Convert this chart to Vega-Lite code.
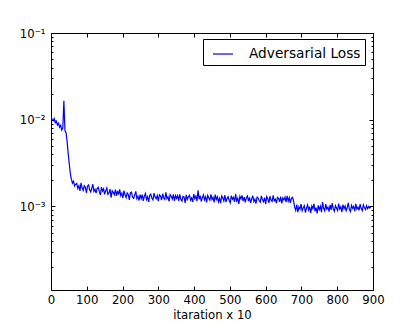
{
"$schema": "https://vega.github.io/schema/vega-lite/v6.json",
"width": 322, "height": 257,
"autosize": {"type": "none"},
"padding": {"left": 51, "top": 33, "right": 42, "bottom": 42},
"background": "white",
"config": {
  "view": {"stroke": "black", "strokeWidth": 1},
  "axis": {"grid": false, "domain": false, "labelFlush": false, "tickColor": "black", "tickWidth": 1, "labelColor": "black", "labelFont": "DejaVu Sans", "labelFontSize": 11.7, "titleFont": "DejaVu Sans", "titleFontSize": 11.7, "titleFontWeight": "normal", "titleColor": "black"}
},
"data": {"values": [
{"x":0,"y":1.08e-2},{"x":3,"y":1.01e-2},{"x":6,"y":9.7e-3},{"x":9,"y":1.03e-2},{"x":12,"y":9.2e-3},{"x":15,"y":9.6e-3},{"x":18,"y":8.7e-3},{"x":21,"y":9.1e-3},{"x":24,"y":8.2e-3},{"x":27,"y":8.6e-3},{"x":30,"y":7.6e-3},{"x":33,"y":8.0e-3},{"x":36,"y":1.65e-2},{"x":39,"y":7.5e-3},{"x":42,"y":7.1e-3},{"x":45,"y":5.6e-3},{"x":48,"y":4.1e-3},{"x":51,"y":3.1e-3},{"x":54,"y":2.4e-3},{"x":57,"y":2.05e-3},{"x":60,"y":1.85e-3},{"x":63,"y":1.95e-3},{"x":66,"y":1.72e-3},{"x":69,"y":1.80e-3},
{"x":72,"y":1.84e-3},{"x":75,"y":1.61e-3},{"x":78,"y":1.73e-3},{"x":81,"y":1.51e-3},{"x":84,"y":1.87e-3},{"x":87,"y":1.63e-3},{"x":90,"y":1.53e-3},{"x":93,"y":1.73e-3},{"x":96,"y":1.66e-3},{"x":99,"y":1.43e-3},{"x":102,"y":1.72e-3},{"x":105,"y":1.77e-3},{"x":108,"y":1.55e-3},{"x":111,"y":1.47e-3},{"x":114,"y":1.62e-3},{"x":117,"y":1.80e-3},{"x":120,"y":1.49e-3},{"x":123,"y":1.57e-3},{"x":126,"y":1.42e-3},{"x":129,"y":1.61e-3},{"x":132,"y":1.66e-3},{"x":135,"y":1.49e-3},{"x":138,"y":1.36e-3},{"x":141,"y":1.67e-3},{"x":144,"y":1.50e-3},{"x":147,"y":1.59e-3},{"x":150,"y":1.38e-3},
{"x":153,"y":1.52e-3},{"x":156,"y":1.63e-3},{"x":159,"y":1.38e-3},{"x":162,"y":1.43e-3},{"x":165,"y":1.58e-3},{"x":168,"y":1.26e-3},{"x":171,"y":1.51e-3},{"x":174,"y":1.45e-3},{"x":177,"y":1.36e-3},{"x":180,"y":1.56e-3},{"x":183,"y":1.32e-3},{"x":186,"y":1.51e-3},{"x":189,"y":1.37e-3},{"x":192,"y":1.57e-3},{"x":195,"y":1.33e-3},{"x":198,"y":1.42e-3},{"x":201,"y":1.25e-3},{"x":204,"y":1.52e-3},{"x":207,"y":1.36e-3},{"x":210,"y":1.26e-3},{"x":213,"y":1.43e-3},{"x":216,"y":1.37e-3},{"x":219,"y":1.19e-3},{"x":222,"y":1.44e-3},{"x":225,"y":1.46e-3},{"x":228,"y":1.28e-3},{"x":231,"y":1.24e-3},{"x":234,"y":1.36e-3},{"x":237,"y":1.49e-3},{"x":240,"y":1.23e-3},{"x":243,"y":1.31e-3},{"x":246,"y":1.17e-3},{"x":249,"y":1.37e-3},
{"x":252,"y":1.23e-3},{"x":255,"y":1.37e-3},{"x":258,"y":1.16e-3},{"x":261,"y":1.31e-3},{"x":264,"y":1.41e-3},{"x":267,"y":1.20e-3},{"x":270,"y":1.29e-3},{"x":273,"y":1.13e-3},{"x":276,"y":1.34e-3},{"x":279,"y":1.38e-3},{"x":282,"y":1.24e-3},{"x":285,"y":1.19e-3},{"x":288,"y":1.42e-3},{"x":291,"y":1.28e-3},{"x":294,"y":1.22e-3},{"x":297,"y":1.33e-3},{"x":300,"y":1.15e-3},{"x":303,"y":1.36e-3},{"x":306,"y":1.32e-3},{"x":309,"y":1.18e-3},{"x":312,"y":1.40e-3},{"x":315,"y":1.25e-3},{"x":318,"y":1.20e-3},{"x":321,"y":1.45e-3},{"x":324,"y":1.23e-3},{"x":327,"y":1.29e-3},{"x":330,"y":1.14e-3},{"x":333,"y":1.37e-3},{"x":336,"y":1.31e-3},{"x":339,"y":1.22e-3},{"x":342,"y":1.38e-3},{"x":345,"y":1.16e-3},{"x":348,"y":1.33e-3},
{"x":351,"y":1.24e-3},{"x":354,"y":1.33e-3},{"x":357,"y":1.16e-3},{"x":360,"y":1.38e-3},{"x":363,"y":1.21e-3},{"x":366,"y":1.15e-3},{"x":369,"y":1.31e-3},{"x":372,"y":1.28e-3},{"x":375,"y":1.10e-3},{"x":378,"y":1.36e-3},{"x":381,"y":1.20e-3},{"x":384,"y":1.29e-3},{"x":387,"y":1.34e-3},{"x":390,"y":1.18e-3},{"x":393,"y":1.25e-3},{"x":396,"y":1.13e-3},{"x":399,"y":1.39e-3},{"x":402,"y":1.23e-3},{"x":405,"y":1.31e-3},{"x":408,"y":1.15e-3},{"x":411,"y":1.53e-3},{"x":414,"y":1.21e-3},{"x":417,"y":1.33e-3},{"x":420,"y":1.14e-3},{"x":423,"y":1.26e-3},{"x":426,"y":1.36e-3},{"x":429,"y":1.19e-3},{"x":432,"y":1.29e-3},{"x":435,"y":1.11e-3},{"x":438,"y":1.34e-3},{"x":441,"y":1.25e-3},{"x":444,"y":1.18e-3},{"x":447,"y":1.38e-3},{"x":450,"y":1.20e-3},
{"x":453,"y":1.27e-3},{"x":456,"y":1.11e-3},{"x":459,"y":1.37e-3},{"x":462,"y":1.20e-3},{"x":465,"y":1.29e-3},{"x":468,"y":1.13e-3},{"x":471,"y":1.24e-3},{"x":474,"y":1.09e-3},{"x":477,"y":1.32e-3},{"x":480,"y":1.26e-3},{"x":483,"y":1.16e-3},{"x":486,"y":1.35e-3},{"x":489,"y":1.12e-3},{"x":492,"y":1.23e-3},{"x":495,"y":1.29e-3},{"x":498,"y":1.18e-3},{"x":501,"y":1.10e-3},{"x":504,"y":1.33e-3},{"x":507,"y":1.21e-3},{"x":510,"y":1.27e-3},{"x":513,"y":1.13e-3},{"x":516,"y":1.39e-3},{"x":519,"y":1.16e-3},{"x":522,"y":1.24e-3},{"x":525,"y":1.07e-3},{"x":528,"y":1.31e-3},{"x":531,"y":1.22e-3},{"x":534,"y":1.34e-3},{"x":537,"y":1.15e-3},{"x":540,"y":1.28e-3},{"x":543,"y":1.11e-3},{"x":546,"y":1.26e-3},{"x":549,"y":1.32e-3},
{"x":552,"y":1.15e-3},{"x":555,"y":1.27e-3},{"x":558,"y":1.10e-3},{"x":561,"y":1.22e-3},{"x":564,"y":1.33e-3},{"x":567,"y":1.14e-3},{"x":570,"y":1.21e-3},{"x":573,"y":1.08e-3},{"x":576,"y":1.28e-3},{"x":579,"y":1.25e-3},{"x":582,"y":1.16e-3},{"x":585,"y":1.12e-3},{"x":588,"y":1.32e-3},{"x":591,"y":1.20e-3},{"x":594,"y":1.13e-3},{"x":597,"y":1.26e-3},{"x":600,"y":1.07e-3},{"x":603,"y":1.30e-3},{"x":606,"y":1.22e-3},{"x":609,"y":1.10e-3},{"x":612,"y":1.31e-3},{"x":615,"y":1.18e-3},{"x":618,"y":1.14e-3},{"x":621,"y":1.34e-3},{"x":624,"y":1.16e-3},{"x":627,"y":1.21e-3},{"x":630,"y":1.09e-3},{"x":633,"y":1.27e-3},{"x":636,"y":1.24e-3},{"x":639,"y":1.13e-3},{"x":642,"y":1.30e-3},{"x":645,"y":1.08e-3},{"x":648,"y":1.25e-3},{"x":651,"y":1.19e-3},{"x":654,"y":1.28e-3},{"x":657,"y":1.12e-3},{"x":660,"y":1.32e-3},{"x":663,"y":1.15e-3},{"x":666,"y":1.26e-3},{"x":669,"y":1.10e-3},{"x":672,"y":1.24e-3},{"x":675,"y":1.27e-3},{"x":678,"y":1.16e-3},
{"x":681,"y":9.8e-4},{"x":684,"y":9.0e-4},{"x":687,"y":1.05e-3},{"x":690,"y":8.6e-4},{"x":693,"y":9.9e-4},{"x":696,"y":9.3e-4},{"x":699,"y":1.06e-3},{"x":702,"y":8.9e-4},{"x":705,"y":9.6e-4},{"x":708,"y":1.02e-3},{"x":711,"y":8.5e-4},{"x":714,"y":9.5e-4},{"x":717,"y":1.04e-3},{"x":720,"y":9.1e-4},{"x":723,"y":9.9e-4},{"x":726,"y":8.4e-4},{"x":729,"y":1.01e-3},{"x":732,"y":9.4e-4},{"x":735,"y":1.07e-3},{"x":738,"y":8.8e-4},{"x":741,"y":9.7e-4},{"x":744,"y":8.3e-4},{"x":747,"y":1.03e-3},{"x":750,"y":9.2e-4},{"x":753,"y":1.00e-3},{"x":756,"y":8.6e-4},{"x":759,"y":1.12e-3},{"x":762,"y":9.5e-4},{"x":765,"y":8.9e-4},{"x":768,"y":1.06e-3},{"x":771,"y":9.3e-4},{"x":774,"y":9.8e-4},{"x":777,"y":8.7e-4},{"x":780,"y":1.04e-3},{"x":783,"y":9.1e-4},{"x":786,"y":1.09e-3},{"x":789,"y":9.4e-4},{"x":792,"y":8.8e-4},{"x":795,"y":1.02e-3},{"x":798,"y":9.6e-4},{"x":801,"y":9.0e-4},{"x":804,"y":1.08e-3},{"x":807,"y":9.3e-4},{"x":810,"y":9.9e-4},{"x":813,"y":8.6e-4},{"x":816,"y":1.05e-3},{"x":819,"y":9.4e-4},{"x":822,"y":1.01e-3},{"x":825,"y":8.9e-4},{"x":828,"y":9.7e-4},{"x":831,"y":1.10e-3},{"x":834,"y":9.2e-4},{"x":837,"y":8.7e-4},{"x":840,"y":1.03e-3},{"x":843,"y":9.5e-4},{"x":846,"y":1.00e-3},{"x":849,"y":8.8e-4},{"x":852,"y":1.07e-3},{"x":855,"y":9.3e-4},{"x":858,"y":9.8e-4},{"x":861,"y":9.0e-4},{"x":864,"y":1.06e-3},{"x":867,"y":9.5e-4},{"x":870,"y":8.9e-4},{"x":873,"y":1.04e-3},{"x":876,"y":9.7e-4},{"x":879,"y":9.2e-4},{"x":882,"y":1.02e-3},{"x":885,"y":9.4e-4},{"x":888,"y":1.00e-3},{"x":891,"y":9.6e-4},{"x":894,"y":9.9e-4}
]},
"resolve": {"axis": {"x": "independent", "y": "independent"}},
"layer": [
  {
    "mark": {"type": "line", "strokeWidth": 1.2, "clip": true},
    "encoding": {
      "x": {"field": "x", "type": "quantitative",
        "scale": {"domain": [0, 900], "nice": false, "zero": false},
        "axis": {"orient": "bottom", "values": [0,100,200,300,400,500,600,700,800,900], "tickSize": -4, "labelPadding": 8, "title": "itaration x 10", "titlePadding": 4}},
      "y": {"field": "y", "type": "quantitative",
        "scale": {"type": "log", "domain": [0.0001086, 0.1], "nice": false},
        "axis": {"orient": "left", "title": null, "labelPadding": 10,
          "values": [0.0002,0.0003,0.0004,0.0005,0.0006,0.0007,0.0008,0.0009,0.001,0.002,0.003,0.004,0.005,0.006,0.007,0.008,0.009,0.01,0.02,0.03,0.04,0.05,0.06,0.07,0.08,0.09,0.1],
          "tickSize": {"condition": {"test": "abs(log(datum.value)/LN10 - round(log(datum.value)/LN10)) < 0.01", "value": -4}, "value": -2},
          "labelExpr": "datum.value == 0.1 ? '10⁻¹' : datum.value == 0.01 ? '10⁻²' : datum.value == 0.001 ? '10⁻³' : ''"}},
      "color": {"datum": "Adversarial Loss", "type": "nominal",
        "scale": {"range": ["#0000ff"]},
        "legend": {"title": null, "orient": "none", "legendX": 152, "legendY": 6, "symbolType": "stroke", "symbolSize": 400, "symbolStrokeWidth": 1.2, "strokeColor": "black", "fillColor": "white", "padding": 4, "cornerRadius": 0, "labelFont": "DejaVu Sans", "labelFontSize": 13.7, "labelColor": "black", "labelOffset": 15, "symbolOffset": 5, "labelLimit": 300}}
    }
  },
  {
    "mark": {"type": "line", "opacity": 0, "strokeOpacity": 0},
    "encoding": {
      "x": {"field": "x", "type": "quantitative",
        "axis": {"orient": "top", "values": [0,100,200,300,400,500,600,700,800,900], "tickSize": -4, "labels": false, "title": null}},
      "y": {"field": "y", "type": "quantitative",
        "axis": {"orient": "right", "title": null, "labels": false,
          "values": [0.0002,0.0003,0.0004,0.0005,0.0006,0.0007,0.0008,0.0009,0.001,0.002,0.003,0.004,0.005,0.006,0.007,0.008,0.009,0.01,0.02,0.03,0.04,0.05,0.06,0.07,0.08,0.09,0.1],
          "tickSize": {"condition": {"test": "abs(log(datum.value)/LN10 - round(log(datum.value)/LN10)) < 0.01", "value": -4}, "value": -2}}}
    }
  }
]
}
